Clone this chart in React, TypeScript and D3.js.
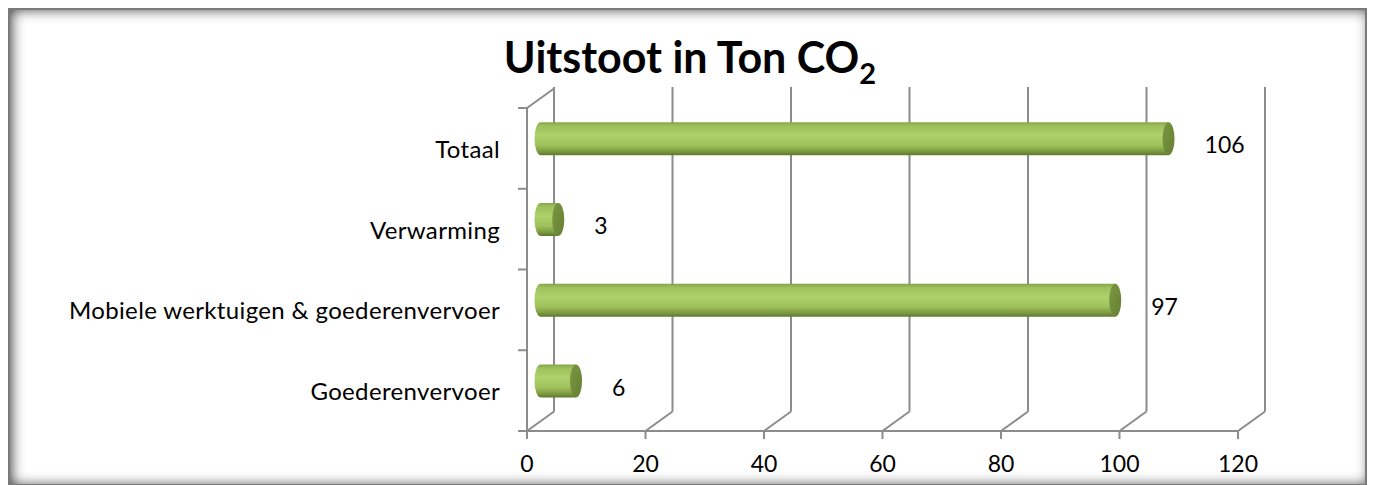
import React from "react";
import * as d3 from "d3";

const categories = ["Totaal", "Verwarming", "Mobiele werktuigen & goederenvervoer", "Goederenvervoer"];
const values = [106, 3, 97, 6];
const xTicks = [0, 20, 40, 60, 80, 100, 120];
const titleMain = "Uitstoot in Ton CO";
const titleSub = "2";

const W = 1373;
const H = 485;
const FONT = "Lato, 'Open Sans', sans-serif";

export default function App() {
  const xFront = d3.scaleLinear().domain([0, 120]).range([527, 1238]);
  const y = d3.scaleBand<string>().domain(categories).range([108, 431]).padding(0);
  const depthX = 27;
  const depthY = -19.5;
  const midX = depthX / 2;
  const midY = depthY / 2;
  const barH = 33;
  const rx = 6;
  const baseY = 431;
  const backTop = 87;
  const gridColor = "#8c8c8c";
  const gw = 2;

  return (
    <svg width={W} height={H} style={{ position: "absolute", left: 0, top: 0 }}>
      <defs>
        <filter id="inset" x="-5%" y="-10%" width="110%" height="120%">
          <feFlood floodColor="#000" floodOpacity="0.8" result="f" />
          <feComposite in="f" in2="SourceGraphic" operator="out" result="outside" />
          <feOffset in="outside" dx="3" dy="1" result="off" />
          <feGaussianBlur in="off" stdDeviation="7" result="blur" />
          <feComposite in="blur" in2="SourceGraphic" operator="in" />
        </filter>
        <linearGradient id="cyl" x1="0" y1="0" x2="0" y2="1">
          <stop offset="0" stopColor="#86a449" />
          <stop offset="0.12" stopColor="#9fc15c" />
          <stop offset="0.4" stopColor="#afd16b" />
          <stop offset="0.7" stopColor="#9fc15b" />
          <stop offset="0.88" stopColor="#7e9c42" />
          <stop offset="1" stopColor="#5f7a2e" />
        </linearGradient>
        <linearGradient id="cap" x1="0" y1="0" x2="1" y2="1">
          <stop offset="0" stopColor="#7c9742" />
          <stop offset="1" stopColor="#657f33" />
        </linearGradient>
      </defs>

      {/* frame */}
      <rect x={8} y={8} width={1359} height={477} fill="#ffffff" />
      <rect x={8} y={8} width={1359} height={477} fill="#ffffff" filter="url(#inset)" />
      <rect x={9} y={9} width={1357} height={476} fill="none" stroke="#7a7a7a" strokeWidth={2} />

      {/* title */}
      <text x={690} y={73} textAnchor="middle" fontFamily={FONT} fontWeight="bold" fontSize={43} fill="#000">
        {titleMain}
        <tspan fontSize={29} dy={11}>{titleSub}</tspan>
      </text>

      {/* left wall top edge */}
      <line x1={xFront(0)} y1={108} x2={xFront(0) + depthX} y2={108 + depthY} stroke={gridColor} strokeWidth={gw} />

      {/* gridlines: diagonal floor + back vertical */}
      {xTicks.map((t) => (
        <g key={"g" + t}>
          <line x1={xFront(t)} y1={baseY} x2={xFront(t) + depthX} y2={baseY + depthY} stroke={gridColor} strokeWidth={gw} />
          <line x1={xFront(t) + depthX} y1={baseY + depthY} x2={xFront(t) + depthX} y2={backTop} stroke={gridColor} strokeWidth={gw} />
        </g>
      ))}

      {/* front axes */}
      <line x1={xFront(0)} y1={108} x2={xFront(0)} y2={baseY} stroke={gridColor} strokeWidth={gw} />
      <line x1={xFront(0) - 9} y1={baseY} x2={xFront(120)} y2={baseY} stroke={gridColor} strokeWidth={gw} />
      {xTicks.map((t) => (
        <line key={"t" + t} x1={xFront(t)} y1={baseY} x2={xFront(t)} y2={baseY + 8} stroke={gridColor} strokeWidth={gw} />
      ))}
      {[...categories.map((c) => y(c) as number), baseY].map((yy, i) => (
        <line key={"ct" + i} x1={xFront(0) - 9} y1={yy} x2={xFront(0)} y2={yy} stroke={gridColor} strokeWidth={gw} />
      ))}

      {/* x tick labels */}
      {xTicks.map((t) => (
        <text key={"xl" + t} x={xFront(t)} y={463} textAnchor="middle" dominantBaseline="central" fontFamily={FONT} fontSize={23} fill="#000">
          {t}
        </text>
      ))}

      {/* category labels */}
      {categories.map((c) => (
        <text key={"cl" + c} x={500} y={(y(c) as number) + y.bandwidth() / 2} textAnchor="end" dominantBaseline="central" fontFamily={FONT} fontSize={24} letterSpacing={0.35} fill="#000">
          {c}
        </text>
      ))}

      {/* cylinders */}
      {categories.map((c, i) => {
        const v = values[i];
        const cy = (y(c) as number) + y.bandwidth() / 2 + midY;
        const x0 = xFront(0) + midX;
        const x1 = xFront(v) + midX;
        const top = cy - barH / 2;
        const bot = cy + barH / 2;
        const body = `M${x1},${top} L${x0},${top} A${rx},${barH / 2} 0 0 0 ${x0},${bot} L${x1},${bot} Z`;
        return (
          <g key={"bar" + c}>
            <path d={body} fill="url(#cyl)" />
            <ellipse cx={x1} cy={cy} rx={rx} ry={barH / 2} fill="url(#cap)" />
            <text x={x1 + 36} y={(y(c) as number) + y.bandwidth() / 2 - 4} dominantBaseline="central" fontFamily={FONT} fontSize={23} fill="#000">
              {v}
            </text>
          </g>
        );
      })}
    </svg>
  );
}
